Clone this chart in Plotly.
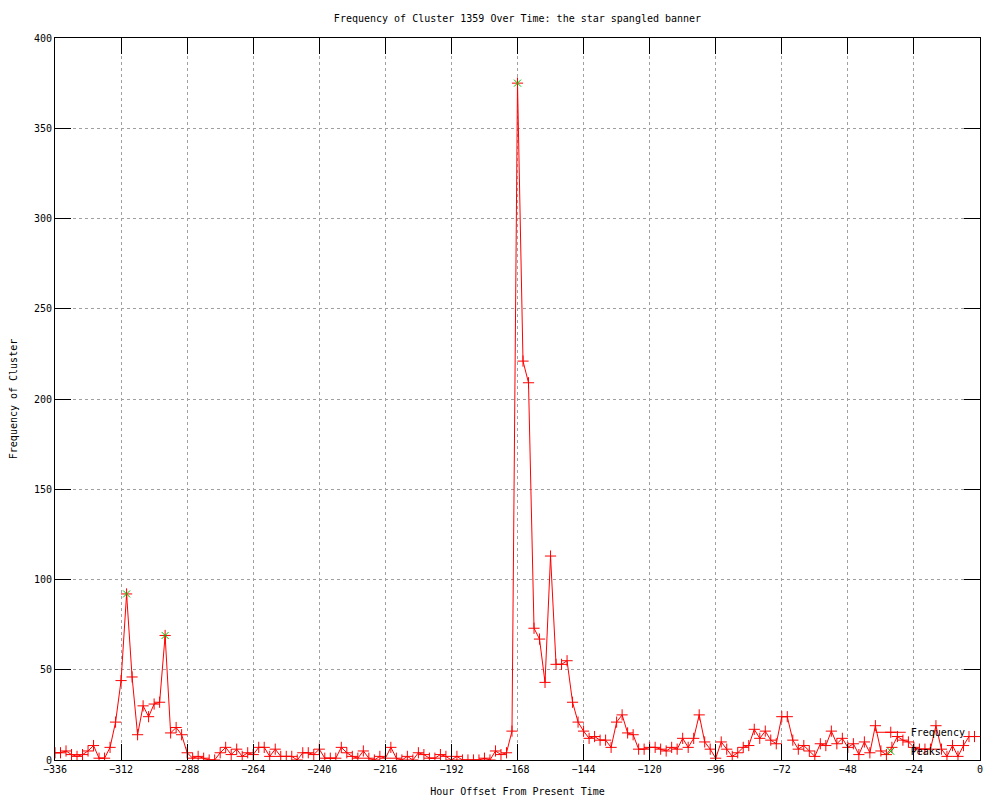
import plotly.graph_objects as go

# Hour offsets (every 2 hours) and cluster frequency
hours = list(range(-336, 0, 2))
frequency = [
    4, 4, 5, 3, 2, 3, 5, 8, 1, 1,            # -336 .. -318
    7, 21, 44, 92, 46, 14, 30, 24, 31, 32,   # -316 .. -298
    69, 15, 18, 14, 4, 1, 2, 1, 0, 0,        # -296 .. -278
    4, 7, 3, 6, 2, 4, 3, 7, 7, 2,            # -276 .. -258
    6, 2, 2, 2, 0, 4, 4, 3, 6, 1,            # -256 .. -238
    1, 1, 7, 4, 2, 1, 5, 1, 0, 2,            # -236 .. -218
    1, 7, 1, 0, 2, 0, 4, 3, 1, 1,            # -216 .. -198
    3, 2, 0, 2, 0, 0, 0, 0, 1, 0,            # -196 .. -178
    5, 3, 4, 16, 375, 221, 209, 73, 67, 43,  # -176 .. -158
    113, 53, 53, 55, 32, 21, 16, 12, 13, 11, # -156 .. -138
    11, 7, 21, 25, 15, 14, 6, 6, 7, 7,       # -136 .. -118
    6, 5, 7, 6, 12, 7, 12, 25, 10, 6,        # -116 .. -98
    1, 10, 6, 2, 4, 7, 8, 17, 12, 16,        # -96 .. -78
    11, 9, 24, 24, 11, 6, 8, 5, 2, 9,        # -76 .. -58
    8, 16, 9, 12, 7, 9, 3, 10, 4, 19,        # -56 .. -38
    5, 3, 7, 13, 11, 10, 7, 6, 6, 6,         # -36 .. -18
    19, 6, 2, 8, 2, 8, 13, 13,               # -16 .. -2
]

peak_hours = [-310, -296, -168]
peak_values = [92, 69, 375]

x_ticks = list(range(-336, 1, 24))
y_ticks = list(range(0, 401, 50))

FONT = "DejaVu Sans Mono"

fig = go.Figure()
fig.add_trace(go.Scatter(
    x=hours, y=frequency, name="Frequency", mode="lines+markers",
    line=dict(color="#ff0000", width=1),
    marker=dict(symbol="cross-thin", size=8, color="#ff0000",
                line=dict(width=1, color="#ff0000")),
))
fig.add_trace(go.Scatter(
    x=peak_hours, y=peak_values, name="Peaks", mode="markers",
    marker=dict(symbol="x-thin", size=7, color="#00c000",
                line=dict(width=1, color="#00c000")),
))

axis_common = dict(
    showgrid=True, gridcolor="#a0a0a0", griddash="dot", gridwidth=1,
    showline=True, linecolor="black", linewidth=1, mirror="allticks",
    ticks="inside", ticklen=16, tickcolor="black", tickwidth=1,
    zeroline=False, automargin=False,
    tickfont=dict(family=FONT, size=10, color="black"),
)

fig.update_layout(
    width=1000, height=800,
    margin=dict(l=47, r=28, t=30, b=48),
    paper_bgcolor="white", plot_bgcolor="white",
    font=dict(family=FONT, size=10, color="black"),
    title=dict(text="Frequency of Cluster 1359 Over Time: the star spangled banner",
               x=0.5095, xanchor="center", y=0.9875, yanchor="middle",
               font=dict(family=FONT, size=10, color="black")),
    xaxis=dict(range=[-336, 0], tickvals=x_ticks,
               title=dict(text="Hour Offset From Present Time", standoff=13,
                          font=dict(family=FONT, size=10)),
               **axis_common),
    yaxis=dict(range=[0, 400], tickvals=y_ticks,
               title=dict(text="Frequency of Cluster", standoff=14,
                          font=dict(family=FONT, size=10)),
               **axis_common),
    legend=dict(x=0.99, xanchor="right", y=-0.008, yanchor="bottom",
                bgcolor="rgba(0,0,0,0)", borderwidth=0,
                font=dict(family=FONT, size=10), itemwidth=30,
                tracegroupgap=0),
    showlegend=True,
)

fig.write_html("out.html")
